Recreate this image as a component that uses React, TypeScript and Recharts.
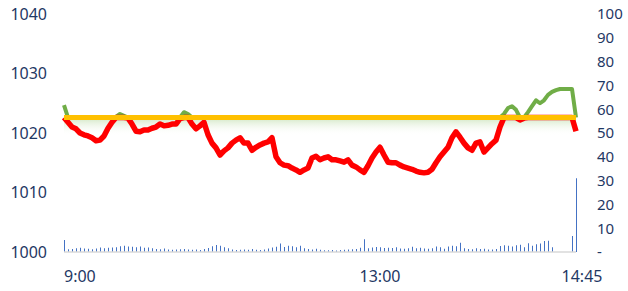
import React from 'react';
import { ComposedChart, Line, Bar, XAxis, YAxis, ReferenceLine, ReferenceArea } from 'recharts';

const REF = 1022.6;

const PRICE = [
  1024.7, 1021.8, 1021.0, 1020.7, 1020.0, 1019.7, 1019.5, 1019.2, 1018.7, 1018.8,
  1019.5, 1020.8, 1021.8, 1022.7, 1023.2, 1022.9, 1022.5, 1021.5, 1020.3, 1020.2,
  1020.5, 1020.5, 1020.8, 1021.0, 1021.5, 1021.2, 1021.3, 1021.5, 1021.5, 1022.4,
  1023.5, 1023.2, 1021.5, 1020.7, 1021.2, 1021.8, 1019.7, 1018.3, 1017.5, 1016.3,
  1017.0, 1017.5, 1018.3, 1018.8, 1019.2, 1018.3, 1018.3, 1017.1, 1017.6, 1018.0,
  1018.3, 1018.5, 1019.2, 1016.0, 1015.0, 1014.6, 1014.5, 1014.1, 1013.8, 1013.4,
  1013.8, 1014.1, 1015.8, 1016.1, 1015.5, 1015.8, 1016.0, 1015.5, 1015.5, 1015.3,
  1015.1, 1015.5, 1014.6, 1014.3, 1013.8, 1013.4, 1014.5, 1015.8, 1016.8, 1017.6,
  1016.3, 1015.1, 1015.0, 1015.0, 1014.6, 1014.3, 1014.1, 1013.9, 1013.6, 1013.4,
  1013.3, 1013.4, 1013.9, 1015.0, 1016.0, 1016.8, 1017.6, 1019.2, 1020.2, 1019.3,
  1018.3, 1017.5, 1017.1, 1018.3, 1018.5, 1016.8, 1017.5, 1018.2, 1018.8, 1021.0,
  1023.2, 1024.2, 1024.5, 1023.9, 1022.2, 1022.5, 1023.5, 1024.5, 1025.5, 1025.0,
  1025.5, 1026.4, 1026.9, 1027.2, 1027.4, 1027.4, 1027.4, 1027.4, 1020.3,
];

const VOLUME = [
  5.0, 1.2, 1.3, 1.6, 1.8, 1.5, 1.4, 1.2, 1.5, 1.9,
  1.6, 1.8, 1.9, 2.0, 2.4, 2.6, 2.3, 2.2, 2.0, 2.3,
  1.8, 1.9, 1.6, 1.3, 1.2, 1.5, 1.0, 0.9, 1.0, 1.2,
  1.3, 1.0, 0.9, 1.0, 0.8, 1.3, 1.7, 2.4, 2.9, 2.6,
  2.0, 1.6, 1.0, 0.8, 0.9, 1.1, 0.9, 1.3, 0.9, 0.8,
  1.1, 1.5, 1.9, 2.2, 3.6, 2.1, 2.6, 2.4, 2.0, 2.6,
  1.6, 1.3, 1.1, 1.4, 0.9, 0.7, 0.7, 0.8, 0.6, 0.8,
  0.9, 1.0, 1.2, 1.3, 1.8, 5.4, 1.6, 1.9, 2.1, 2.0,
  1.7, 1.8, 1.7, 2.0, 1.5, 1.4, 1.6, 2.2, 1.6, 1.8,
  1.5, 1.4, 1.6, 2.3, 2.0, 1.4, 2.3, 2.6, 2.4, 3.9,
  1.6, 1.3, 1.2, 1.6, 1.3, 1.4, 1.0, 1.1, 1.3, 2.5,
  2.8, 2.6, 2.3, 2.8, 3.0, 2.0, 3.7, 2.6, 3.3, 3.6,
  4.6, 4.7, 2.0, 0, 0, 0, 0, 6.7, 31,
];

const X_TICKS = [0, 79, 128];
const X_LABELS = ['9:00', '13:00', '14:45'];
const LEFT_TICKS = [1000, 1010, 1020, 1030, 1040];
const RIGHT_TICKS = [0, 10, 20, 30, 40, 50, 60, 70, 80, 90, 100];

const data = PRICE.map((p, i) => ({
  i,
  red: Math.min(p, REF),
  green: Math.max(p, REF),
  vol: VOLUME[i],
}));

const TEXT = '#1F3864';
const FONT = '"Noto Sans", sans-serif';

const XTick = (props: any) => {
  const { x, y, payload } = props;
  const k = X_TICKS.indexOf(payload.value);
  const label = X_LABELS[k];
  const anchor = k === 0 ? 'start' : 'middle';
  const dx = k === X_TICKS.length - 1 ? 6 : 0;
  return (
    <text x={x + dx} y={y} dy="0.71em" textAnchor={anchor} fill={TEXT} fontSize={16} fontFamily={FONT}>
      {label}
    </text>
  );
};

export default function App() {
  return (
    <div style={{ position: 'absolute', left: 0, top: 0, width: 628, height: 291, background: '#fff' }}>
      <ComposedChart width={628} height={291} data={data} margin={{ top: 14, right: 0, bottom: 0, left: 0 }}>
        <defs>
          <linearGradient id="glow" x1="0" y1="0" x2="0" y2="1">
            <stop offset="0%" stopColor="#C5E0B3" stopOpacity={0.8} />
            <stop offset="100%" stopColor="#FFFFFF" stopOpacity={0} />
          </linearGradient>
        </defs>
        <XAxis
          dataKey="i"
          type="number"
          domain={[0, 128]}
          ticks={X_TICKS}
          tick={<XTick />}
          tickLine={false}
          tickSize={0}
          tickMargin={19}
          height={39}
          axisLine={{ stroke: '#D9D9D9', strokeWidth: 1.5 }}
          interval={0}
        />
        <YAxis
          yAxisId="left"
          domain={[1000, 1040]}
          ticks={LEFT_TICKS}
          width={64}
          axisLine={false}
          tickLine={false}
          tickSize={0}
          tickMargin={17}
          tick={{ fill: TEXT, fontSize: 16, fontFamily: FONT }}
          interval={0}
        />
        <YAxis
          yAxisId="right"
          orientation="right"
          domain={[0, 100]}
          ticks={RIGHT_TICKS}
          width={52}
          axisLine={false}
          tickLine={false}
          tickSize={0}
          tickMargin={21}
          tick={{ fill: TEXT, fontSize: 15, fontFamily: FONT, textAnchor: 'start' }}
          tickFormatter={(v: number) => (v === 0 ? '-' : String(v))}
          interval={0}
        />
        <ReferenceArea yAxisId="left" y1={REF - 3} y2={REF} fill="url(#glow)" stroke="none" fillOpacity={1} />
        <Bar yAxisId="right" dataKey="vol" fill="#4472C4" barSize={1} isAnimationActive={false} />
        <Line yAxisId="left" dataKey="green" stroke="#70AD47" strokeWidth={4} dot={false} isAnimationActive={false} strokeLinejoin="round" />
        <Line yAxisId="left" dataKey="red" stroke="#FF0000" strokeWidth={5.5} dot={false} isAnimationActive={false} strokeLinejoin="round" />
        <ReferenceLine yAxisId="left" y={REF} stroke="#FFC000" strokeWidth={5} />
      </ComposedChart>
    </div>
  );
}
